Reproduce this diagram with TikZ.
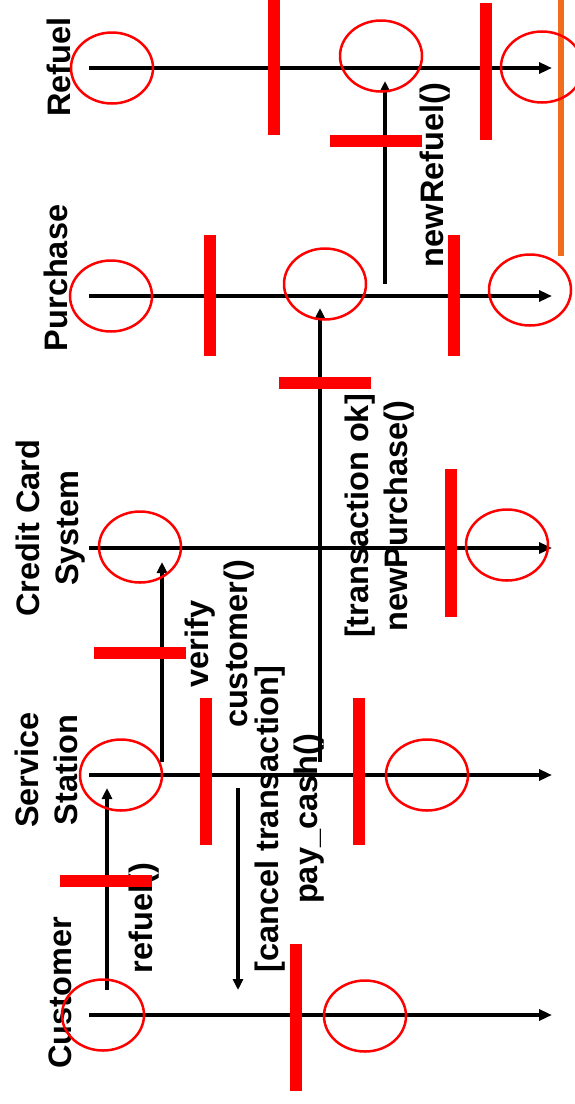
\documentclass[tikz,border=0pt]{standalone}
\usepackage{fontspec}
\setmainfont{Liberation Sans}
\usetikzlibrary{arrows.meta,shapes.geometric}
\definecolor{orng}{RGB}{242,108,30}
\begin{document}
\begin{tikzpicture}[x=1pt,y=-1pt,
  lbl/.style={rotate=90, font=\bfseries\fontsize{32.5}{39}\selectfont, align=center, inner sep=0pt},
  ell/.style={draw=red, line width=2.5pt, ellipse, minimum width=82pt, minimum height=71pt, inner sep=0pt},
  vbar/.style={fill=red, inner sep=0pt, minimum width=12pt},
  hbar/.style={fill=red, inner sep=0pt, minimum height=12pt, minimum width=92pt},
  life/.style={line width=3.8pt, -{Triangle[length=13pt,width=11pt]}},
  msg/.style={line width=3.5pt, -{Triangle[length=11pt,width=10pt]}}]
\useasboundingbox (0,0) rectangle (575,1104);

% lifeline end points
\coordinate (rfS) at (89,68);   \coordinate (rfE) at (552,68);
\coordinate (puS) at (89,296);  \coordinate (puE) at (552,296);
\coordinate (ccS) at (89,548);  \coordinate (ccE) at (552,548);
\coordinate (ssS) at (89,775);  \coordinate (ssE) at (552,775);
\coordinate (cuS) at (89,1015); \coordinate (cuE) at (552,1015);
% message end points
\coordinate (m1S) at (107,990); \coordinate (m1E) at (107,788);
\coordinate (m2S) at (238,788); \coordinate (m2E) at (238,990);
\coordinate (m3S) at (162,762); \coordinate (m3E) at (162,562);
\coordinate (m4S) at (320,762); \coordinate (m4E) at (320,308);
\coordinate (m5S) at (385,284); \coordinate (m5E) at (385,81);
\coordinate (orT) at (561,0);   \coordinate (orB) at (561,256);

% lifelines
\draw[life] (rfS) -- (rfE);
\draw[life] (puS) -- (puE);
\draw[life] (ccS) -- (ccE);
\draw[life] (ssS) -- (ssE);
\draw[life] (cuS) -- (cuE);
% messages
\draw[msg] (m1S) -- (m1E);
\draw[msg] (m2S) -- (m2E);
\draw[msg] (m3S) -- (m3E);
\draw[msg] (m4S) -- (m4E);
\draw[msg] (m5S) -- (m5E);

% labels
\node[lbl] (lRefuel) at (59,67) {Refuel};
\node[lbl] (lPurchase) at (56,278) {Purchase};
\node[lbl] (lCredit) at (51,528) {Credit Card\\System};
\node[lbl] (lService) at (46,770) {Service\\Station};
\node[lbl] (lCustomer) at (60,993) {Customer};
\node[lbl] (tNewRefuel) at (435,175) {newRefuel()};
\node[lbl] (tPurchase) at (380,516) {[transaction ok]\\newPurchase()};
\node[lbl] (tVerify) at (220,644) {verify\\customer()};
\node[lbl] (tRefuel) at (144,918) {refuel()};
\node[lbl] (tCancel) at (290,819) {[cancel transaction]\\pay\_cash()};

% orange line
\draw[orng, line width=6pt] (orT) -- (orB);

% ellipses
\node[ell] (e1) at (112,68) {};
\node[ell] (e2) at (381,56) {};
\node[ell] (e3) at (542,67) {};
\node[ell] (e4) at (111,296) {};
\node[ell] (e5) at (325,284) {};
\node[ell] (e6) at (530,290) {};
\node[ell] (e7) at (140,547) {};
\node[ell] (e8) at (507,545) {};
\node[ell] (e9) at (121,775) {};
\node[ell] (e10) at (427,775) {};
\node[ell] (e11) at (103,1015) {};
\node[ell] (e12) at (365,1016) {};

% bars
\node[vbar, minimum height=135pt] (b1) at (274,67) {};
\node[vbar, minimum height=137pt] (b2) at (486,71.5) {};
\node[vbar, minimum height=121pt] (b3) at (210,295.5) {};
\node[vbar, minimum height=121pt] (b4) at (454,295.5) {};
\node[vbar, minimum height=148pt] (b5) at (451,543) {};
\node[vbar, minimum height=147pt] (b6) at (206,771.5) {};
\node[vbar, minimum height=147pt] (b7) at (359,771.5) {};
\node[vbar, minimum height=147pt] (b8) at (296,1017) {};
\node[hbar] (h1) at (376,141) {};
\node[hbar] (h2) at (325,383) {};
\node[hbar] (h3) at (140,653) {};
\node[hbar] (h4) at (106,881) {};
\end{tikzpicture}
\end{document}
